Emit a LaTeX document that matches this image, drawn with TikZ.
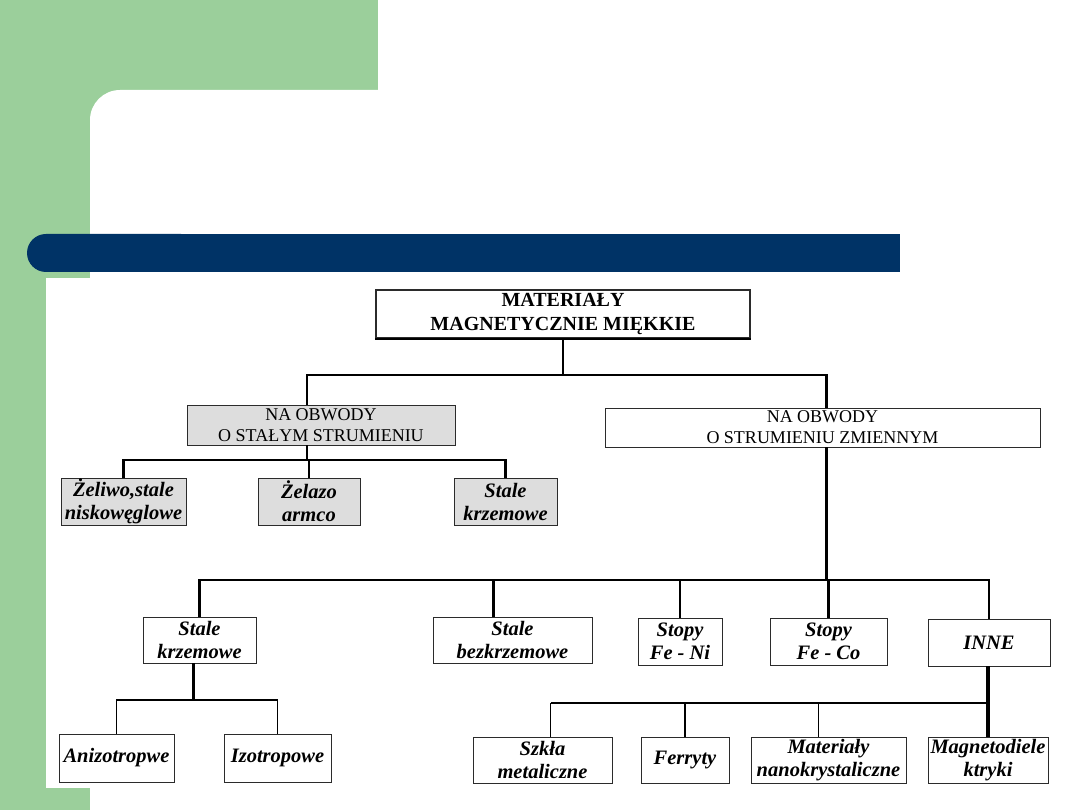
\documentclass[tikz,border=0pt]{standalone}
\usepackage{fontspec}
\setmainfont{Liberation Serif}
\usepackage{xcolor}
\usepackage{tikz}
\usetikzlibrary{calc}
\definecolor{slidegreen}{HTML}{9BCF9B}
\definecolor{slidenavy}{HTML}{003366}
\definecolor{scanline}{HTML}{2B2B2B}
\definecolor{scanfill}{HTML}{DDDDDD}

\tikzset{
  headbox/.style={draw=scanline, line width=1.1pt, align=center, inner sep=0pt,
    font=\fontsize{20}{24}\selectfont\bfseries},
  groupbox/.style={draw=scanline, line width=0.8pt, align=center, inner sep=0pt,
    font=\fontsize{18}{21}\selectfont},
  leafbox/.style={draw=scanline, line width=0.8pt, align=center, inner sep=0pt,
    font=\fontsize{20.5}{23}\selectfont\bfseries\itshape},
  shaded/.style={fill=scanfill},
  trunk/.style={line width=2.6pt},
  twig/.style={line width=1.1pt},
}

\begin{document}
\begin{tikzpicture}[x=1pt, y=-1pt]
      \useasboundingbox (0,0) rectangle (1080,810);
      \clip (0,0) rectangle (1080,810);
      % slide background
      \fill[white] (0,0) rectangle (1080,810);
      \fill[slidegreen] (0,0) rectangle (378,90);
      \fill[slidegreen] (0,0) rectangle (90,810);
      \fill[slidegreen] (90,90) rectangle (140,140);
      \fill[white, rounded corners=30pt] (90,90) rectangle (1120,850);
      \fill[slidenavy, rounded corners=19pt] (27,234) rectangle (200,272);
      \fill[slidenavy] (100,234) rectangle (900,272);
      \fill[white] (46,278) rectangle (1080,788);

      % boxes
      \node[headbox, minimum width=374pt, minimum height=48pt] (root) at (563,314) {MATERIAŁY\\MAGNETYCZNIE MIĘKKIE};
      \draw[line width=2pt] (root.south west) -- (root.south east);
      \node[groupbox, shaded, minimum width=268pt, minimum height=40pt] (stalyStr) at (321,425) {NA OBWODY\\O STAŁYM STRUMIENIU};
      \node[groupbox, minimum width=435pt, minimum height=39pt] (zmienny) at (822.5,427.5) {NA OBWODY\\O STRUMIENIU ZMIENNYM};
      \node[leafbox, shaded, minimum width=125pt, minimum height=47pt] (zeliwo) at (123.5,501.5) {Żeliwo,stale\\niskowęglowe};
      \node[leafbox, shaded, minimum width=102pt, minimum height=47pt] (zelazo) at (309,501.5) {Żelazo\\armco};
      \node[leafbox, shaded, minimum width=103pt, minimum height=47pt] (staleKrzA) at (505.5,501.5) {Stale\\krzemowe};
      \node[leafbox, minimum width=113pt, minimum height=46pt] (staleKrzB) at (199.5,640) {Stale\\krzemowe};
      \node[leafbox, minimum width=159pt, minimum height=46pt] (bezkrz) at (512.5,640) {Stale\\bezkrzemowe};
      \node[leafbox, minimum width=84pt, minimum height=47pt] (feNi) at (680,641.5) {Stopy\\Fe - Ni};
      \node[leafbox, minimum width=117pt, minimum height=47pt] (feCo) at (828.5,641.5) {Stopy\\Fe - Co};
      \node[leafbox, minimum width=122pt, minimum height=47pt] (inne) at (989,642.5) {INNE};
      \node[leafbox, minimum width=115pt, minimum height=48pt] (anizo) at (116.5,758) {Anizotropwe};
      \node[leafbox, minimum width=107pt, minimum height=48pt] (izo) at (277.5,758) {Izotropowe};
      \node[leafbox, minimum width=139pt, minimum height=46pt] (szkla) at (542.5,760) {Szkła\\metaliczne};
      \node[leafbox, minimum width=88pt, minimum height=46pt] (ferryty) at (685,760) {Ferryty};
      \node[leafbox, minimum width=155pt, minimum height=46pt] (nano) at (828.5,760) {Materiały\\nanokrystaliczne};
      \node[leafbox, minimum width=120pt, minimum height=46pt] (magneto) at (988,760) {Magnetodiele\\ktryki};

      % bus levels and taps
      \coordinate (bus1) at (0,375);
      \coordinate (bus2) at (0,460);
      \coordinate (bus3) at (0,580);
      \coordinate (bus4) at (0,700);
      \coordinate (bus5) at (0,703);
      \coordinate (stalyTop) at ([xshift=-14pt]stalyStr.north);
      \coordinate (stalyBot) at ([xshift=-14pt]stalyStr.south);
      \coordinate (zmiennyTop) at ([xshift=4pt]zmienny.north);
      \coordinate (zmiennyBot) at ([xshift=4pt]zmienny.south);
      \coordinate (bezkrzTop) at ([xshift=-19pt]bezkrz.north);
      \coordinate (krzBot) at ([xshift=-6pt]staleKrzB.south);
      \coordinate (szklaTop) at ([xshift=8pt]szkla.north);
      \coordinate (nanoTop) at ([xshift=-10pt]nano.north);

      % connectors
      \draw[trunk] (root.south) -- (root.south |- bus1);
      \draw[trunk] (stalyTop) |- (bus1 -| zmiennyTop) -- (zmiennyTop);
      \draw[trunk] (stalyBot) -- (stalyBot |- bus2);
      \draw[trunk] (zeliwo.north) |- (bus2 -| staleKrzA.north) -- (staleKrzA.north);
      \draw[trunk] (zelazo.north) -- (zelazo.north |- bus2);
      \draw[trunk] (zmiennyBot) -- (zmiennyBot |- bus3);
      \draw[trunk] (staleKrzB.north) |- (bus3 -| inne.north) -- (inne.north);
      \draw[trunk] (bezkrzTop) -- (bezkrzTop |- bus3);
      \draw[trunk] (feNi.north) -- (feNi.north |- bus3);
      \draw[trunk] (feCo.north) -- (feCo.north |- bus3);
      \draw[trunk] (krzBot) -- (krzBot |- bus4);
      \draw[twig] (anizo.north) |- (bus4 -| izo.north) -- (izo.north);
      \draw[line width=1.8pt] (anizo.north |- bus4) -- (izo.north |- bus4);
      \draw[line width=3.2pt] (magneto.north) -- (magneto.north |- inne.south);
      \draw[twig] (szklaTop) -- (szklaTop |- bus5);
      \draw[twig] (ferryty.north) -- (ferryty.north |- bus5);
      \draw[twig] (nanoTop) -- (nanoTop |- bus5);
      \draw[trunk] (szklaTop |- bus5) -- (magneto.north |- bus5);
    \end{tikzpicture}
\end{document}
